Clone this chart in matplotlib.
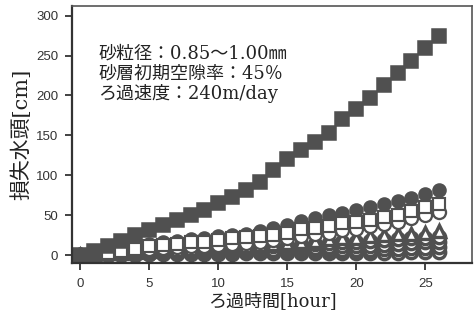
import matplotlib
matplotlib.use("Agg")
import matplotlib.pyplot as plt

# ろ過時間 [hour]
hours = list(range(0, 27))

# 損失水頭 [cm]
head_total = [0, 5, 11, 18, 25, 32, 38, 44, 50, 57, 65, 73, 82, 92, 107, 121,
              132, 142, 153, 170, 183, 197, 213, 228, 243, 260, 275]
head_fc = [0, 2, 4, 7, 10, 14, 16, 18, 20, 22, 24, 25, 27, 30, 34, 38,
           43, 47, 50, 53, 56, 60, 64, 68, 72, 77, 81]
head_os = [0, 2, 3, 5, 8, 11, 13, 14, 16, 17, 19, 21, 23, 24, 25, 28,
           33, 34, 36, 40, 41, 44, 48, 50, 55, 60, 64]
head_oc = [0, 1, 2, 4, 6, 8, 9, 10, 11, 12, 13, 14, 15, 17, 19, 21,
           24, 26, 28, 31, 33, 36, 39, 42, 46, 50, 54]
head_tri = [0, 1, 2, 3, 4, 5, 6, 7, 8, 9, 10, 11, 12, 13, 14, 15,
            17, 18, 20, 21, 22, 24, 25, 26, 27, 28, 30]
head_l1 = [0, 1, 1, 2, 3, 4, 5, 5, 6, 7, 8, 8, 9, 10, 11, 12,
           13, 14, 15, 16, 17, 18, 19, 20, 21, 22, 23]
head_l2 = [0, 0, 1, 1, 2, 3, 3, 4, 4, 5, 5, 6, 6, 7, 7, 8,
           9, 9, 10, 11, 11, 12, 13, 14, 15, 16, 17]
head_l3 = [0, 0, 0, 1, 1, 1, 2, 2, 2, 3, 3, 3, 4, 4, 4, 5,
           5, 5, 6, 6, 7, 7, 8, 8, 9, 9, 10]
head_l4 = [0, 0, 0, 0, 0, 1, 1, 1, 1, 1, 1, 1, 2, 2, 2, 2,
           2, 2, 2, 3, 3, 3, 3, 3, 4, 4, 4]

info_lines = ["砂粒径：0.85～1.00㎜", "砂層初期空隙率：45％", "ろ過速度：240m/day"]

dark = "#505050"
txt_family = ["DejaVu Serif", "Noto Sans CJK JP"]

fig = plt.figure(figsize=(4.77, 3.22), dpi=100)
ax = fig.add_axes([0.151, 0.183, 0.839, 0.798])

ms = 9.4
mew = 1.1

# 下の方の系列から順に重ねる
for vals, mk in [(head_l4, "o"), (head_l3, "o"), (head_l2, "o"),
                 (head_l1, "o"), (head_tri, "^")]:
    ax.plot(hours, vals, linestyle="none", marker=mk, markersize=ms * 0.95,
            markerfacecolor="white", markeredgecolor=dark, markeredgewidth=mew * 2.2)
ax.plot(hours, head_oc, linestyle="none", marker="o", markersize=ms,
        markerfacecolor="white", markeredgecolor=dark, markeredgewidth=mew * 1.5)
ax.plot(hours, head_fc, linestyle="none", marker="o", markersize=ms,
        markerfacecolor=dark, markeredgecolor=dark, markeredgewidth=mew)
ax.plot(hours, head_os, linestyle="none", marker="s", markersize=ms * 0.9,
        markerfacecolor="white", markeredgecolor=dark, markeredgewidth=mew * 1.4)
ax.plot(hours, head_total, linestyle="none", marker="s", markersize=ms,
        markerfacecolor=dark, markeredgecolor=dark, markeredgewidth=mew)

ax.set_xlim(-0.58, 28.4)
ax.set_ylim(-10, 312)
ax.set_xticks([0, 5, 10, 15, 20, 25])
ax.set_yticks([0, 50, 100, 150, 200, 250, 300])

for side in ["left", "bottom"]:
    ax.spines[side].set_linewidth(1.6)
    ax.spines[side].set_color("#333333")
for side in ["top", "right"]:
    ax.spines[side].set_linewidth(1.2)
    ax.spines[side].set_color("#555555")

ax.tick_params(direction="out", length=5, width=1.3, color="#333333",
               labelsize=9.5, labelcolor="#333333")
ax.tick_params(axis="x", pad=6)
ax.tick_params(axis="y", pad=5)
for lab in ax.get_xticklabels() + ax.get_yticklabels():
    lab.set_family(["Liberation Sans"])

ax.set_xlabel("ろ過時間[hour]", family=txt_family, fontsize=13,
              color="#222222", labelpad=1)
ax.set_ylabel("損失水頭[cm]", family=txt_family, fontsize=15,
              color="#222222", labelpad=3)

for i, line in enumerate(info_lines):
    ax.text(0.065, 0.817 - i * 0.078, line, transform=ax.transAxes,
            family=txt_family, fontsize=13, color="#222222", va="center")

fig.savefig("out.png", dpi=100)
